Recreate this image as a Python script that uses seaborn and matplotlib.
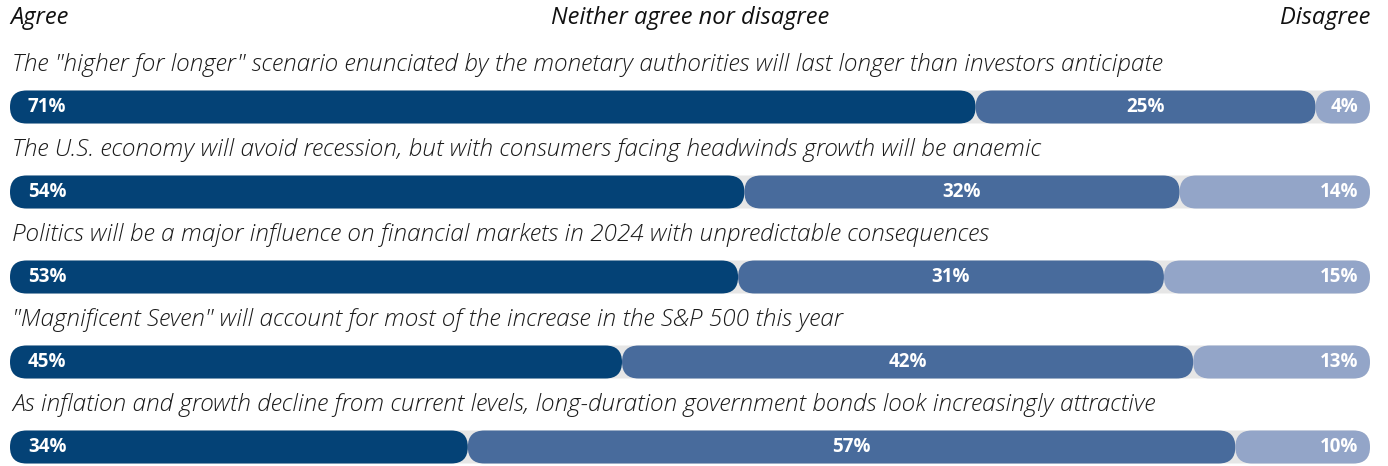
import matplotlib
matplotlib.use("Agg")
import matplotlib.pyplot as plt
from matplotlib.patches import FancyBboxPatch
import seaborn as sns
import pandas as pd

statements = [
    'The "higher for longer" scenario enunciated by the monetary authorities will last longer than investors anticipate',
    'The U.S. economy will avoid recession, but with consumers facing headwinds growth will be anaemic',
    'Politics will be a major influence on financial markets in 2024 with unpredictable consequences',
    '"Magnificent Seven" will account for most of the increase in the S&P 500 this year',
    'As inflation and growth decline from current levels, long-duration government bonds look increasingly attractive',
]
agree = [71, 54, 53, 45, 34]
neither = [25, 32, 31, 42, 57]
disagree = [4, 14, 15, 13, 10]
headers = ["Agree", "Neither agree nor disagree", "Disagree"]

colors = ["#044276", "#486b9c", "#93a5c8"]
track_color = "#e6e6e6"

sns.set_theme(style="white")
plt.rcParams["font.family"] = ["Open Sans", "DejaVu Sans"]

W, H, DPI = 1388, 466, 100
fig = plt.figure(figsize=(W / DPI, H / DPI), dpi=DPI)
left_px, width_px = 10, 1360
ax = fig.add_axes([left_px / W, 0, width_px / W, 1])

row_px0, row_step = 107, 85
bar_h = 33 / row_step

n = len(statements)
totals = [a + b + c for a, b, c in zip(agree, neither, disagree)]
# normalise so each bar fills the full track (shares are rounded)
agree_n = [a / t * 100 for a, t in zip(agree, totals)]
neither_n = [b / t * 100 for b, t in zip(neither, totals)]
disagree_n = [c / t * 100 for c, t in zip(disagree, totals)]

df = pd.DataFrame({"q": [str(i) for i in range(n)], "track": [100] * n,
                   "agree": agree_n, "neither": neither_n,
                   "disagree": disagree_n})

starts = {
    "agree": [0] * n,
    "neither": agree_n,
    "disagree": [a + b for a, b in zip(agree_n, neither_n)],
}

px_per_x = width_px / 100
px_per_y = row_step
aspect = px_per_x / px_per_y
radius_x = (33 / 2) / px_per_x


def draw(col, color, start):
    before = len(ax.patches)
    sns.barplot(data=df, x=col, y="q", orient="h", color=color,
                width=bar_h, ax=ax, saturation=1, errorbar=None)
    new = ax.patches[before:]
    for i, p in enumerate(new):
        x0 = start[i]
        w = p.get_width()
        y0 = p.get_y()
        h = p.get_height()
        p.remove()
        fb = FancyBboxPatch((x0, y0), w, h,
                            boxstyle=f"round,pad=0,rounding_size={radius_x}",
                            mutation_aspect=aspect, facecolor=color,
                            edgecolor="none", linewidth=0)
        ax.add_patch(fb)


draw("track", track_color, [0] * n)
draw("agree", colors[0], starts["agree"])
draw("neither", colors[1], starts["neither"])
draw("disagree", colors[2], starts["disagree"])

ax.set_xlim(0, 100)
ax.set_ylim((H - row_px0) / row_step, -row_px0 / row_step)
ax.axis("off")

pad_x = 18 / px_per_x
for i in range(n):
    ax.text(0.15, i - 0.49, statements[i], ha="left", va="center",
            fontsize=17.6, style="italic", fontweight="light", color="#1a1a1a")
    ax.text(pad_x, i, f"{agree[i]}%", ha="left", va="center",
            fontsize=13.5, fontweight="bold", color="white")
    ax.text(agree_n[i] + neither_n[i] / 2, i, f"{neither[i]}%", ha="center",
            va="center", fontsize=13.5, fontweight="bold", color="white")
    ax.text(100 - 12 / px_per_x, i, f"{disagree[i]}%", ha="right",
            va="center", fontsize=13.5, fontweight="bold", color="white")

hy = -row_px0 / row_step + 18 / row_step
ax.text(0, hy, headers[0], ha="left", va="center", fontsize=17,
        style="italic", color="#111111")
ax.text(50, hy, headers[1], ha="center", va="center", fontsize=17,
        style="italic", color="#111111")
ax.text(100, hy, headers[2], ha="right", va="center", fontsize=17,
        style="italic", color="#111111")

fig.savefig("out.png", dpi=DPI)
